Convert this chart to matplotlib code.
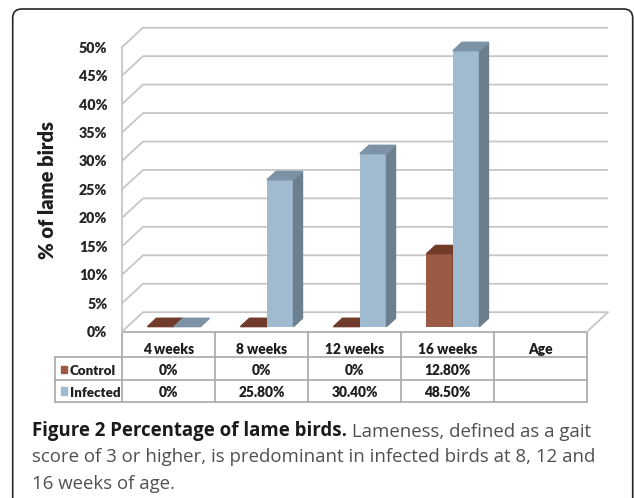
import matplotlib.pyplot as plt
from matplotlib.patches import Polygon, FancyBboxPatch, Rectangle

# lameness per age group (% of birds)
ages = ['4 weeks', '8 weeks', '12 weeks', '16 weeks', 'Age']
control = [0.0, 0.0, 0.0, 12.8]
infected = [0.0, 25.8, 30.4, 48.5]
control_labels = ['0%', '0%', '0%', '12.80%']
infected_labels = ['0%', '25.80%', '30.40%', '48.50%']
yticks = [0, 5, 10, 15, 20, 25, 30, 35, 40, 45, 50]

W, H = 634, 498
X0, Y0 = 122, 331.7      # front-left floor corner (px)
CW = 93                  # category width (px)
PY = 5.69                # px per percent
DX_PX, DY_PX = 21, 19.5  # offset of back wall (px)

CHART_FONT = 'Lato'
CHART_WEIGHT = 'heavy'
GRID = '#c6c6c6'
TABLE_LINE = '#a8a8a8'

# front, side, top colours
ctrl_col = ('#9b5a44', '#6d3828', '#713b2b')
inf_col = ('#a0bacf', '#6b7f8f', '#7d92a4')

fig = plt.figure(figsize=(W / 100, H / 100), dpi=100)
fig.patch.set_facecolor('white')

# pixel-space layer for frame, table and caption
base = fig.add_axes([0, 0, 1, 1])
base.set_xlim(0, W)
base.set_ylim(H, 0)
base.axis('off')

ax = fig.add_axes([X0 / W, 1 - Y0 / H, 5 * CW / W, 50 * PY / H])
ax.set_xlim(0, 5)
ax.set_ylim(0, 50)
ax.patch.set_visible(False)
dx = DX_PX / CW
dy = DY_PX / PY

# back wall gridlines and left wall diagonals
for v in yticks:
    ax.plot([0, dx, 5 + dx], [v, v + dy, v + dy], color=GRID, lw=1.3,
            clip_on=False, zorder=1, solid_capstyle='butt')
ax.plot([5, 5 + dx], [0, dy], color=GRID, lw=1.3, clip_on=False, zorder=1)

for s in ['top', 'right', 'bottom']:
    ax.spines[s].set_visible(False)
ax.spines['left'].set_color(GRID)
ax.spines['left'].set_linewidth(1.3)
ax.set_xticks([])
ax.set_yticks(yticks, [f'{v}%' for v in yticks])
ax.tick_params(axis='y', length=0, pad=10.5, labelsize=10.3, labelcolor='#262626')
for lab in ax.get_yticklabels():
    lab.set_fontfamily(CHART_FONT)
    lab.set_fontweight(CHART_WEIGHT)

# bars with fake depth
f0, fb = 0.26, 0.43
bar_w = 0.285
bdx, bdy = fb * dx, fb * dy
z = 2
for i in range(len(control)):
    centre = i + 0.5 + f0 * dx
    bottom = f0 * dy
    for j, (val, cols) in enumerate([(control[i], ctrl_col), (infected[i], inf_col)]):
        left = centre - bar_w + j * bar_w
        right = left + bar_w
        top = bottom + val
        if val > 0:
            ax.bar(left, val, width=bar_w, bottom=bottom, align='edge',
                   color=cols[0], zorder=z, clip_on=False)
            ax.add_patch(Polygon([(right, bottom), (right, top),
                                  (right + bdx, top + bdy), (right + bdx, bottom + bdy)],
                                 closed=True, color=cols[1], zorder=z, clip_on=False))
        ax.add_patch(Polygon([(left, top), (right, top),
                              (right + bdx, top + bdy), (left + bdx, top + bdy)],
                             closed=True, color=cols[2], zorder=z, clip_on=False))
        z += 1

# data table under the chart
row_y = [Y0, 357, 380, 402]
table_left = 55
table_right = X0 + 5 * CW
base.plot([X0, table_right], [Y0, Y0], color=TABLE_LINE, lw=1.2)
for yy in row_y[1:]:
    base.plot([table_left, table_right], [yy, yy], color=TABLE_LINE, lw=1.2)
for i in range(6):
    xx = X0 + i * CW
    base.plot([xx, xx], [Y0, row_y[-1]], color=TABLE_LINE, lw=1.2)
base.plot([table_left, table_left], [row_y[1], row_y[-1]], color=TABLE_LINE, lw=1.2)

TABLE_SIZE = 9.9
txt = dict(family=CHART_FONT, fontweight=CHART_WEIGHT, fontsize=TABLE_SIZE, color='#1e1e1e',
           ha='center', va='baseline')
for i, name in enumerate(ages):
    base.text(X0 + (i + 0.5) * CW, 354, name, **txt)
for i in range(len(control)):
    base.text(X0 + (i + 0.5) * CW, 374.5, control_labels[i], **txt)
    base.text(X0 + (i + 0.5) * CW, 396.5, infected_labels[i], **txt)

for name, yb, col in [('Control', 375, ctrl_col[0]), ('Infected', 396.5, inf_col[0])]:
    base.add_patch(Rectangle((61, yb - 9.5), 6, 7.5, color=col))
    base.text(70, yb, name, family=CHART_FONT, fontweight=CHART_WEIGHT, fontsize=9.6,
              color='#1e1e1e', ha='left', va='baseline')

base.text(48, 190, '% of lame birds', rotation=90, family=CHART_FONT,
          fontweight=CHART_WEIGHT, fontsize=14.5, color='#1e1e1e', ha='center', va='center')

# rounded frame
base.add_patch(FancyBboxPatch((12.7, 9), 620, 530,
                              boxstyle='round,pad=0,rounding_size=9',
                              fill=False, ec='#262626', lw=1.2, clip_on=False))

# caption
CAP_SIZE = 13.45
cap = dict(family='Open Sans', fontsize=CAP_SIZE, va='baseline', ha='left')
t1 = base.text(31.7, 435.7, 'Figure 2 Percentage of lame birds.', fontweight='bold',
               color='#1a1a1a', **cap)
base.annotate(' Lameness, defined as a gait', xy=(1, 0), xycoords=t1,
              va='bottom', ha='left', family='Open Sans', fontsize=CAP_SIZE, color='#505050')
base.text(31.7, 462.3, 'score of 3 or higher, is predominant in infected birds at 8, 12 and',
          color='#505050', **cap)
base.text(31.7, 488.5, '16 weeks of age.', color='#505050', **cap)

fig.savefig('out.png', dpi=100)
